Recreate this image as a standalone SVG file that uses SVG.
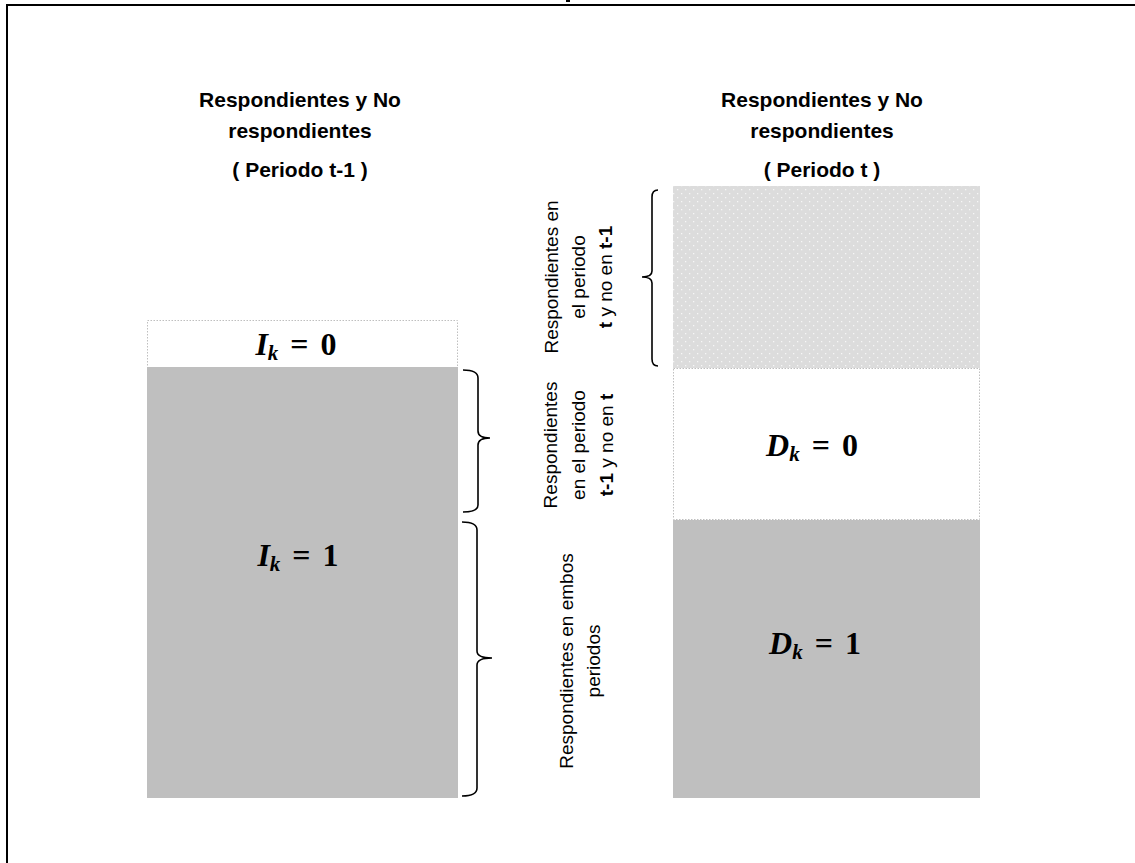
<svg xmlns="http://www.w3.org/2000/svg" width="1135" height="863" viewBox="0 0 1135 863">
<style>
.title{font-family:"Liberation Sans",Arial,sans-serif;font-weight:bold;font-size:21px;fill:#000;text-anchor:middle}
.lbl{font-family:"Liberation Sans",Arial,sans-serif;font-size:19px;fill:#000;text-anchor:middle}
.b{font-weight:bold}
.math{font-family:"Liberation Serif","Times New Roman",serif;font-weight:bold;font-size:32px;fill:#000;text-anchor:middle}
.it{font-style:italic}
.sub{font-size:21px;font-style:italic}
.gray{fill:#bfbfbf}
.white{fill:#fff;stroke:#bfbfbf;stroke-width:1;stroke-dasharray:1.5 1.5}
.brace{fill:none;stroke:#000;stroke-width:1.6}
</style>
<defs>
<pattern id="dots" width="8" height="8" patternUnits="userSpaceOnUse">
<rect width="8" height="8" fill="#dcdcdc"/>
<rect x="1" y="1" width="1.3" height="1.3" fill="#f6f6f6"/>
<rect x="5" y="5" width="1.3" height="1.3" fill="#f6f6f6"/>
</pattern>
</defs>
<rect width="1135" height="863" fill="#fff"/>
<g id="frame">
<line x1="7" y1="5" x2="1135" y2="5" stroke="#000" stroke-width="2"/>
<line x1="7" y1="4" x2="7" y2="863" stroke="#000" stroke-width="2"/>
<rect x="566" y="0" width="4" height="2" fill="#000"/>
</g>
<g id="title-left">
<text class="title" x="300" y="107">Respondientes y No</text>
<text class="title" x="300" y="138">respondientes</text>
<text class="title" x="300" y="177">( Periodo t-1 )</text>
</g>
<g id="title-right">
<text class="title" x="822" y="107">Respondientes y No</text>
<text class="title" x="822" y="138">respondientes</text>
<text class="title" x="822" y="177">( Periodo t )</text>
</g>
<g id="left-ik0">
<rect class="white" x="147.5" y="320.5" width="310" height="47"/>
<text class="math" x="296" y="355"><tspan class="it">I</tspan><tspan class="sub" dy="5">k</tspan><tspan dx="12" dy="-5">=</tspan><tspan dx="12">0</tspan></text>
</g>
<g id="left-ik1">
<rect class="gray" x="147" y="367" width="311" height="431"/>
<text class="math" x="298" y="566"><tspan class="it">I</tspan><tspan class="sub" dy="5">k</tspan><tspan dx="12" dy="-5">=</tspan><tspan dx="12">1</tspan></text>
</g>
<g id="right-new">
<rect x="673" y="186" width="307" height="182" fill="url(#dots)"/>
</g>
<g id="right-dk0">
<rect class="white" x="673.5" y="368.5" width="306" height="151"/>
<text class="math" x="812" y="456"><tspan class="it">D</tspan><tspan class="sub" dy="5">k</tspan><tspan dx="12" dy="-5">=</tspan><tspan dx="12">0</tspan></text>
</g>
<g id="right-dk1">
<rect class="gray" x="673" y="520" width="307" height="278"/>
<text class="math" x="815" y="654"><tspan class="it">D</tspan><tspan class="sub" dy="5">k</tspan><tspan dx="12" dy="-5">=</tspan><tspan dx="12">1</tspan></text>
</g>
<g id="connectors">
<path class="brace" d="M658,190 Q652,190 652,197 L652,271 Q652,277 642,277 Q652,277 652,283 L652,359 Q652,366 658,366"/>
<path class="brace" d="M463,370 Q478,370 478,378 L478,431 Q478,438 490,438 Q478,438 478,445 L478,505 Q478,512 463,512"/>
<path class="brace" d="M462,522 Q477,522 477,530 L477,651 Q477,658 492,658 Q477,658 477,665 L477,788 Q477,796 462,796"/>
</g>
<g id="label-new">
<g transform="translate(0,277) rotate(-90)">
<text class="lbl" x="0" y="558">Respondientes en</text>
<text class="lbl" x="0" y="585">el periodo</text>
<text class="lbl" x="0" y="612"><tspan class="b">t</tspan> y no en <tspan class="b">t-1</tspan></text>
</g>
</g>
<g id="label-lost">
<g transform="translate(0,445) rotate(-90)">
<text class="lbl" x="0" y="557">Respondientes</text>
<text class="lbl" x="0" y="585">en el periodo</text>
<text class="lbl" x="0" y="613"><tspan class="b">t-1</tspan> y no en <tspan class="b">t</tspan></text>
</g>
</g>
<g id="label-both">
<g transform="translate(0,661) rotate(-90)">
<text class="lbl" x="0" y="573">Respondientes en embos</text>
<text class="lbl" x="0" y="600">periodos</text>
</g>
</g>
</svg>
